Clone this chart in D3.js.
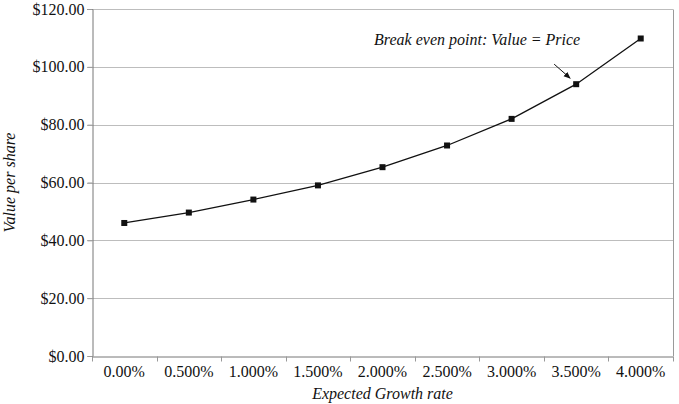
<!DOCTYPE html>
<html>
<head>
<meta charset="utf-8">
<script src="https://cdn.jsdelivr.net/npm/d3@7"></script>
<style>
  html, body { margin: 0; padding: 0; background: #fff; }
  svg { display: block; }
</style>
</head>
<body>
<svg id="chart" width="679" height="404"></svg>
<script>
const categories = ["0.00%", "0.500%", "1.000%", "1.500%", "2.000%", "2.500%", "3.000%", "3.500%", "4.000%"];
const values = [46.0, 49.6, 54.1, 59.0, 65.3, 72.8, 82.0, 94.0, 109.8];
const yTicks = [0, 20, 40, 60, 80, 100, 120];
const annotationText = "Break even point: Value = Price";
const annotationIndex = 7;
const xTitle = "Expected Growth rate";
const yTitle = "Value per share";

const FONT = "'Liberation Serif', 'Times New Roman', Times, 'DejaVu Serif', serif";
const W = 679, H = 404;
const m = { left: 92, right: 6, top: 9, bottom: 48 };
const svg = d3.select("#chart").style("font-family", FONT);

const x = d3.scaleBand().domain(categories).range([m.left, W - m.right]);
const y = d3.scaleLinear().domain([0, 120]).range([H - m.bottom, m.top]);

svg.append("defs").append("marker")
  .attr("id", "arrow").attr("viewBox", "0 0 10 10")
  .attr("refX", 9).attr("refY", 5)
  .attr("markerWidth", 7).attr("markerHeight", 7)
  .attr("orient", "auto")
  .append("path").attr("d", "M0,1 L10,5 L0,9 Z").attr("fill", "#111");

// gridlines
svg.append("g").selectAll("line").data(yTicks.filter(d => d > 0)).join("line")
  .attr("x1", m.left - 5).attr("x2", W - m.right)
  .attr("y1", d => Math.round(y(d)) + 0.5).attr("y2", d => Math.round(y(d)) + 0.5)
  .attr("stroke", "#bdbdbd").attr("stroke-width", 1);

// right border
svg.append("line")
  .attr("x1", W - m.right + 0.5).attr("x2", W - m.right + 0.5)
  .attr("y1", Math.round(y(120)) + 0.5).attr("y2", Math.round(y(0)))
  .attr("stroke", "#9a9a9a");

// y axis
const yAxis = svg.append("g")
  .attr("transform", `translate(${m.left + 0.5},0)`)
  .call(d3.axisLeft(y).tickValues(yTicks).tickSize(5).tickPadding(3)
    .tickFormat(d => "$" + d3.format(".2f")(d)));
yAxis.attr("font-family", null).attr("font-size", null);
yAxis.select(".domain").attr("stroke", "#777");
yAxis.selectAll(".tick line").attr("stroke", "#999");
yAxis.selectAll("text").style("font-family", FONT).style("font-size", "16px").attr("fill", "#111");

// x axis
const xAxis = svg.append("g")
  .attr("transform", `translate(0,${Math.round(y(0)) + 0.5})`)
  .call(d3.axisBottom(x).tickSize(0).tickPadding(9));
xAxis.attr("font-family", null).attr("font-size", null);
xAxis.select(".domain").attr("stroke", "#777");
xAxis.selectAll("text").style("font-family", FONT).style("font-size", "16px").attr("fill", "#111");
const bounds = categories.map(c => x(c)).concat([x(categories[categories.length - 1]) + x.bandwidth()]);
xAxis.append("g").selectAll("line").data(bounds).join("line")
  .attr("x1", d => Math.round(d) + 0.5).attr("x2", d => Math.round(d) + 0.5)
  .attr("y1", 0).attr("y2", 5).attr("stroke", "#999");

// line
const cx = (d, i) => x(categories[i]) + x.bandwidth() / 2;
svg.append("path")
  .datum(values)
  .attr("fill", "none").attr("stroke", "#111").attr("stroke-width", 1.3)
  .attr("d", d3.line().x((d, i) => cx(d, i)).y(d => y(d)));

svg.append("g").selectAll("rect").data(values).join("rect")
  .attr("x", (d, i) => cx(d, i) - 3).attr("y", d => y(d) - 3)
  .attr("width", 6).attr("height", 6).attr("fill", "#111");

// annotation
const ax = cx(0, annotationIndex), ay = y(values[annotationIndex]);
svg.append("text")
  .attr("x", ax - 99).attr("y", ay - 39)
  .attr("text-anchor", "middle")
  .style("font-family", FONT).style("font-size", "16px").style("font-style", "italic")
  .attr("fill", "#111")
  .text(annotationText);
svg.append("line")
  .attr("x1", ax - 22).attr("y1", ay - 20)
  .attr("x2", ax - 6).attr("y2", ay - 6)
  .attr("stroke", "#111").attr("stroke-width", 1)
  .attr("marker-end", "url(#arrow)");

// axis titles
svg.append("text")
  .attr("x", (m.left + W - m.right) / 2).attr("y", 399)
  .attr("text-anchor", "middle")
  .style("font-family", FONT).style("font-size", "16px").style("font-style", "italic")
  .attr("fill", "#111")
  .text(xTitle);
svg.append("text")
  .attr("transform", `translate(15,${(y(0) + y(120)) / 2}) rotate(-90)`)
  .attr("text-anchor", "middle")
  .style("font-family", FONT).style("font-size", "16px").style("font-style", "italic")
  .attr("fill", "#111")
  .text(yTitle);
</script>
</body>
</html>
